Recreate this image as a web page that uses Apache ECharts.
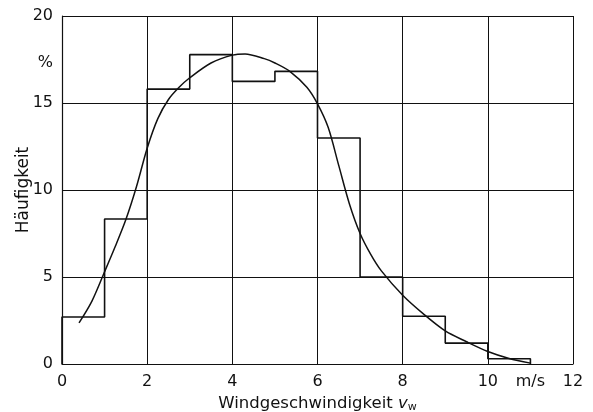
<!DOCTYPE html>
<html>
<head>
<meta charset="utf-8">
<script src="https://cdn.jsdelivr.net/npm/echarts@6/dist/echarts.min.js"></script>
<style>
html,body{margin:0;padding:0;background:#fff;}
#c{width:593px;height:412px;}
</style>
</head>
<body>
<div id="c"></div>
<script>
// Histogram bins (m/s) and frequencies (%)
const binEdges = [0, 1, 2, 3, 4, 5, 6, 7, 8, 9, 10, 11];
const binValues = [2.7, 8.33, 15.8, 17.78, 16.24, 16.82, 12.99, 5.0, 2.74, 1.2, 0.3];

// Fitted distribution curve
const curveX = [0.4, 0.7, 1.0, 1.25, 1.5, 1.75, 2.0, 2.25, 2.5, 2.75, 3.0, 3.5, 4.0, 4.3, 4.75, 5.0, 5.35, 5.75, 6.0, 6.25, 6.5, 6.75, 7.0, 7.25, 7.5, 8.0, 8.5, 9.0, 9.5, 10.0, 10.5, 11.0];
const curveY = [2.36, 3.6, 5.3, 6.75, 8.3, 10.2, 12.4, 14.1, 15.2, 15.9, 16.45, 17.3, 17.75, 17.82, 17.55, 17.3, 16.82, 15.9, 14.95, 13.6, 11.4, 9.2, 7.5, 6.3, 5.35, 3.95, 2.85, 1.9, 1.28, 0.72, 0.32, 0.05];

// Axis ticks
const xTicks = [0, 2, 4, 6, 8, 10, 12];
const xUnitPos = 11, xUnit = 'm/s';
const yTicks = [0, 5, 10, 15, 20];
const yUnitPos = 17.3, yUnit = '%';

const stepData = [[binEdges[0], 0]];
for (let i = 0; i < binValues.length; i++) stepData.push([binEdges[i], binValues[i]]);
stepData.push([binEdges[binEdges.length - 1], 0]);

const curveData = curveX.map((x, i) => [x, curveY[i]]);

const FONT = 'DejaVu Sans';
const chart = echarts.init(document.getElementById('c'), null, {renderer: 'canvas'});
chart.setOption({
  backgroundColor: '#fff',
  animation: false,
  grid: {left: 62, right: 20, top: 16, bottom: 48, containLabel: false, outerBoundsMode: 'none'},
  xAxis: [{
    type: 'value', min: 0, max: 12, interval: 2,
    axisLine: {show: true, lineStyle: {color: '#111', width: 1.2}},
    axisTick: {show: false},
    splitLine: {show: true, lineStyle: {color: '#111', width: 1}},
    axisLabel: {
      customValues: xTicks.concat([xUnitPos]),
      formatter: v => (v === xUnitPos ? xUnit : String(v)),
      color: '#111', fontFamily: FONT, fontSize: 16, margin: 10
    },
    name: '{t|Windgeschwindigkeit }{v|v}{s|w}',
    nameLocation: 'middle', nameGap: 31, nameMoveOverlap: false,
    nameTextStyle: {
      verticalAlign: 'top',
      rich: {
        t: {fontFamily: FONT, fontSize: 16.5, color: '#111'},
        v: {fontFamily: FONT, fontSize: 16.5, fontStyle: 'italic', color: '#111'},
        s: {fontFamily: FONT, fontSize: 11, color: '#111', padding: [7, 0, 0, 0]}
      }
    }
  }],
  yAxis: [{
    type: 'value', min: 0, max: 20, interval: 5,
    axisLine: {show: true, lineStyle: {color: '#111', width: 1.2}},
    axisTick: {show: false},
    splitLine: {show: true, lineStyle: {color: '#111', width: 1}},
    axisLabel: {
      customValues: yTicks.concat([yUnitPos]),
      formatter: v => (v === yUnitPos ? yUnit : String(v)),
      color: '#111', fontFamily: FONT, fontSize: 16, margin: 9
    },
    name: 'Häufigkeit', nameLocation: 'middle', nameGap: 30, nameMoveOverlap: false,
    nameTextStyle: {fontFamily: FONT, fontSize: 17, color: '#111'}
  }],
  series: [
    {
      type: 'line', data: stepData, step: 'end', symbol: 'none',
      lineStyle: {color: '#111', width: 1.6}, z: 3
    },
    {
      type: 'line', data: curveData, smooth: 0.3, symbol: 'none',
      lineStyle: {color: '#111', width: 1.5}, z: 4
    }
  ]
});
</script>
</body>
</html>
